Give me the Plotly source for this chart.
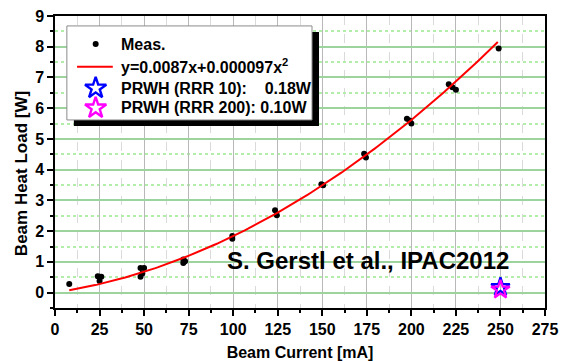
import plotly.graph_objects as go
import numpy as np

# Measured beam heat load vs. beam current
meas_current = [8, 24, 25, 26, 25, 48, 50, 49, 48, 72, 73, 72, 99.5, 99.5,
                123.5, 124.5, 149.5, 150.5, 173.5, 174.5, 197.5, 199, 200,
                221, 223, 225, 249]
meas_load = [0.28, 0.53, 0.52, 0.52, 0.38, 0.8, 0.8, 0.62, 0.52, 1.08, 1.02, 0.96,
             1.84, 1.75, 2.68, 2.52, 3.53, 3.49, 4.52, 4.4, 5.66, 5.6, 5.5,
             6.78, 6.68, 6.6, 7.94]

# Quadratic fit y = a*x + b*x^2
fit_a = 0.0087
fit_b = 0.000097
fit_range = [8, 248.5]

# PRWH estimates at 250 mA
prwh_current = [250]
prwh_rrr10 = [0.18]
prwh_rrr200 = [0.10]

NB = "\u00a0"
# Legend texts
legend_labels = ["Meas.",
                 "y=0.0087x+0.000097x<sup>2</sup>",
                 "PRWH (RRR 10):" + NB * 4 + "0.18W",
                 "PRWH (RRR 200):" + NB + "0.10W"]

FONT = "Liberation Sans, Arial, sans-serif"
BLACK = "black"

fit_x = np.linspace(fit_range[0], fit_range[1], 200)
fit_y = fit_a * fit_x + fit_b * fit_x ** 2

fig = go.Figure()
fig.add_trace(go.Scatter(
    x=meas_current, y=meas_load, mode="markers", name="Meas.",
    marker=dict(color=BLACK, size=6, symbol="circle")))
fig.add_trace(go.Scatter(
    x=fit_x, y=fit_y, mode="lines", name="fit",
    line=dict(color="red", width=2)))
fig.add_trace(go.Scatter(
    x=prwh_current, y=prwh_rrr10, mode="markers", name="RRR 10",
    marker=dict(symbol="star-open", color="blue", size=14, line=dict(width=2.2))))
fig.add_trace(go.Scatter(
    x=prwh_current, y=prwh_rrr200, mode="markers", name="RRR 200",
    marker=dict(symbol="star-open", color="magenta", size=14, line=dict(width=2.2))))

# ---- legend box, drawn in a 0..1 overlay frame laid over the plot area ----
box_x0, box_x1 = 0.0242, 0.5245
box_y0, box_y1 = 0.644, 0.966
shadow_dx, shadow_dy = 0.0143, 0.0205
row_y = [0.904, 0.830, 0.753, 0.685]
fit_line_y = 0.826
sym_x = 0.083
line_x = [0.045, 0.118]
text_x = 0.131


def rect(x0, x1, y0, y1):
    return [x0, x1, x1, x0, x0], [y0, y0, y1, y1, y0]


overlay = dict(xaxis="x2", yaxis="y2", showlegend=False, hoverinfo="skip")

sx, sy = rect(box_x0 + shadow_dx, box_x1 + shadow_dx,
              box_y0 - shadow_dy, box_y1 - shadow_dy)
fig.add_trace(go.Scatter(x=sx, y=sy, mode="lines", fill="toself",
                         fillcolor=BLACK, line=dict(width=0, color=BLACK), **overlay))
bx, by = rect(box_x0, box_x1, box_y0, box_y1)
fig.add_trace(go.Scatter(x=bx, y=by, mode="lines", fill="toself",
                         fillcolor="white", line=dict(width=1, color="#8c8c8c"), **overlay))
fig.add_trace(go.Scatter(x=line_x, y=[fit_line_y, fit_line_y], mode="lines",
                         line=dict(color="red", width=2), **overlay))
fig.add_trace(go.Scatter(x=[sym_x], y=[row_y[0]], mode="markers",
                         marker=dict(color=BLACK, size=6), **overlay))
fig.add_trace(go.Scatter(
    x=[sym_x, sym_x], y=[row_y[2], row_y[3]], mode="markers",
    marker=dict(symbol="star-open", color=["blue", "magenta"], size=16,
                line=dict(width=2.4)), **overlay))

legend_font = dict(family=FONT, size=16, color=BLACK, weight="bold")
for lbl, yy in zip(legend_labels, row_y):
    fig.add_annotation(x=text_x, y=yy, xref="paper", yref="paper", text=lbl,
                       xanchor="left", yanchor="middle", showarrow=False,
                       font=legend_font)

fig.add_annotation(
    x=0.638, y=0.164, xref="paper", yref="paper", showarrow=False,
    xanchor="center", yanchor="middle",
    text="S. Gerstl et al., IPAC2012",
    font=dict(family=FONT, size=24, color=BLACK, weight="bold"))

# y-axis title
fig.add_annotation(
    x=-0.067, y=0.459, xref="paper", yref="paper", showarrow=False,
    xanchor="center", yanchor="middle", textangle=-90,
    text="Beam Heat Load [W]",
    font=dict(family=FONT, size=17, color=BLACK, weight="bold"))

axis_common = dict(
    showline=True, linecolor=BLACK, linewidth=1.5, mirror=True,
    ticks="outside", ticklen=6, tickwidth=1.5, tickcolor=BLACK,
    tickfont=dict(family=FONT, size=16, color=BLACK, weight="bold"),
    zeroline=False, automargin=False,
)

fig.update_layout(
    width=562, height=361,
    margin=dict(l=55, r=17, t=16, b=53),
    paper_bgcolor="white", plot_bgcolor="white",
    font=dict(family=FONT, color=BLACK),
    showlegend=False,
    xaxis=dict(
        range=[0, 275], tick0=0, dtick=25,
        showgrid=True, gridcolor="#b8b8b8", gridwidth=1,
        minor=dict(dtick=12.5, showgrid=True, gridcolor="#dadada", griddash="dash",
                   ticks="outside", ticklen=3, tickcolor=BLACK),
        title=dict(text="Beam Current [mA]", standoff=11,
                   font=dict(family=FONT, size=16, weight="bold")),
        **axis_common),
    yaxis=dict(
        range=[-0.5, 9], tick0=0, dtick=1,
        showgrid=True, gridcolor="#9dd39d", gridwidth=1.5,
        minor=dict(dtick=0.5, showgrid=True, gridcolor="#b2eeaa", griddash="dot",
                   ticks="outside", ticklen=3, tickcolor=BLACK),
        **axis_common),
    xaxis2=dict(overlaying="x", range=[0, 1], visible=False, fixedrange=True),
    yaxis2=dict(overlaying="y", range=[0, 1], visible=False, fixedrange=True),
)

fig.write_html("out.html")
